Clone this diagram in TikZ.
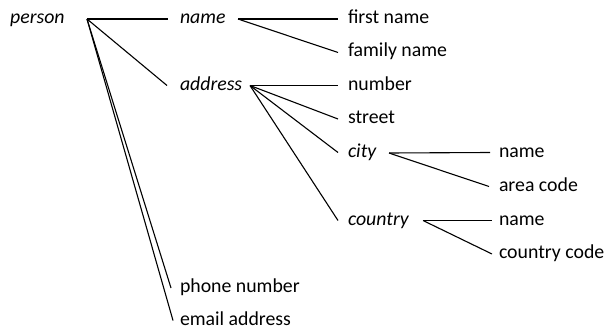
\documentclass[tikz,border=0pt]{standalone}
\usepackage{fontspec}
\setmainfont{Carlito}
\begin{document}
\begin{tikzpicture}[x=1pt,y=-1pt,
  every node/.style={inner sep=0pt,anchor=west,text height=9pt,text depth=0pt,font=\fontsize{19.8pt}{23pt}\selectfont},
  lf/.style={outer xsep=10pt},
  it/.style={font=\fontsize{19.8pt}{23pt}\selectfont\itshape},
  conn/.style={line width=1.1pt}]
\useasboundingbox (0,0) rectangle (608,329);
% top-level
\node[it] (person) at (10,19) {person};
\coordinate (pj) at (87,19);
\node[it,lf,outer xsep=12pt] (name) at (168,19) {name};
\node[it,lf,outer xsep=13pt] (address) at (167,85.5) {address};
\node[lf,outer xsep=9pt] (phone) at (171,288) {phone number};
\node[lf,outer xsep=7pt] (email) at (173,320.5) {email address};
% name
\coordinate (nj) at (238,19);
\node[lf] (first) at (338,19) {first name};
\node[lf] (family) at (338,52.5) {family name};
% address
\coordinate (aj) at (250,85.5);
\node[lf] (number) at (338,85.5) {number};
\node[lf] (street) at (338,119) {street};
\node[it,lf] (city) at (338,152.5) {city};
\node[it,lf] (country) at (338,220.5) {country};
% city
\coordinate (cj) at (389,153);
\node[lf,outer xsep=9pt] (cname) at (490,152.5) {name};
\node[lf,outer xsep=10pt] (area) at (489,186.5) {area code};
% country
\coordinate (coj) at (423,220.5);
\node[lf,outer xsep=7pt] (coname) at (492,220.5) {name};
\node[lf,outer xsep=7pt] (cocode) at (492,254) {country code};
% connectors
\draw[conn] (pj) -- (name.west);
\draw[conn] (pj) -- (address.west);
\draw[conn] (pj) -- (phone.west);
\draw[conn] (pj) -- (email.west);
\draw[conn] (nj) -- (first.west);
\draw[conn] (nj) -- (family.west);
\draw[conn] (aj) -- (number.west);
\draw[conn] (aj) -- (street.west);
\draw[conn] (aj) -- (city.west);
\draw[conn] (aj) -- (country.west);
\draw[conn] (cj) -- (cname.west);
\draw[conn] (cj) -- (area.west);
\draw[conn] (coj) -- (coname.west);
\draw[conn] (coj) -- (cocode.west);
\end{tikzpicture}
\end{document}
